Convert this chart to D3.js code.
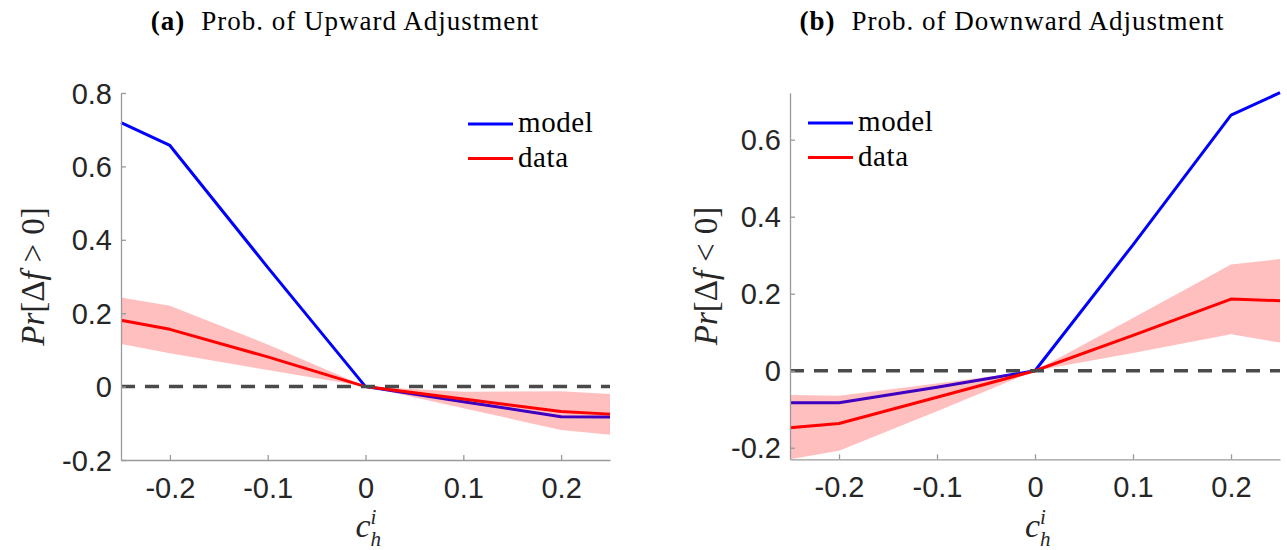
<!DOCTYPE html>
<html>
<head>
<meta charset="utf-8">
<script src="https://cdn.jsdelivr.net/npm/d3@7"></script>
<style>
  html, body { margin: 0; padding: 0; background: #fff; }
  svg { display: block; }
</style>
</head>
<body>
<svg id="chart" width="1287" height="550"></svg>
<script>
// ---------- data ----------
const cGrid = [-0.25, -0.2, -0.1, 0, 0.1, 0.2, 0.25];
const xTicks = [-0.2, -0.1, 0, 0.1, 0.2];
const xTickLabels = ["-0.2", "-0.1", "0", "0.1", "0.2"];

const upModel = [0.719, 0.657, 0.325, 0, -0.041, -0.082, -0.083];
const upData  = [0.181, 0.156, 0.081, 0, -0.034, -0.068, -0.075];
const upLower = [0.116, 0.091, 0.045, 0, -0.059, -0.118, -0.131];
const upUpper = [0.243, 0.220, 0.115, 0, -0.014, -0.013, -0.020];
const upYTicks = [-0.2, 0, 0.2, 0.4, 0.6, 0.8];
const upYTickLabels = ["-0.2", "0", "0.2", "0.4", "0.6", "0.8"];
const upYDomain = [-0.2, 0.8];

const downModel = [-0.083, -0.083, -0.043, 0, 0.327, 0.664, 0.722];
const downData  = [-0.148, -0.137, -0.069, 0, 0.092, 0.186, 0.182];
const downLower = [-0.230, -0.208, -0.105, 0, 0.046, 0.095, 0.073];
const downUpper = [-0.063, -0.065, -0.033, 0, 0.137, 0.276, 0.290];
const downYTicks = [-0.2, 0, 0.2, 0.4, 0.6];
const downYTickLabels = ["-0.2", "0", "0.2", "0.4", "0.6"];
const downYDomain = [-0.23, 0.722];

const seriesNames = ["model", "data"];
const titlesTag = ["(a)", "(b)"];
const titlesText = ["Prob. of Upward Adjustment", "Prob. of Downward Adjustment"];
const yLabelSign = [">", "<"];

// ---------- drawing ----------
const svg = d3.select("#chart");
const tickFont = "'Liberation Sans', Arial, Helvetica, sans-serif";
const serifFont = "'Liberation Serif', 'Times New Roman', serif";
const axisColor = "#9a9a9a";
const textColor = "#262626";

const panels = [
  { left: 121, right: 610, top: 93, bottom: 460,
    model: upModel, data: upData, lower: upLower, upper: upUpper,
    yTicks: upYTicks, yTickLabels: upYTickLabels, yDomain: upYDomain,
    legendX: 468, legendY: 124, titleCenter: 345, ylabelX: 44 },
  { left: 790, right: 1280, top: 92.7, bottom: 459.3,
    model: downModel, data: downData, lower: downLower, upper: downUpper,
    yTicks: downYTicks, yTickLabels: downYTickLabels, yDomain: downYDomain,
    legendX: 808, legendY: 123, titleCenter: 1012, ylabelX: 717 }
];

panels.forEach((p, pi) => {
  const x = d3.scaleLinear().domain([-0.25, 0.25]).range([p.left, p.right]);
  const y = d3.scaleLinear().domain(p.yDomain).range([p.bottom, p.top]);
  const g = svg.append("g");

  // model line (drawn first, band is overlaid semi-transparently)
  const line = d3.line().x((d, i) => x(cGrid[i])).y(d => y(d));
  g.append("path").datum(p.model).attr("d", line)
    .attr("fill", "none").attr("stroke", "#0000ff").attr("stroke-width", 3)
    .attr("stroke-linejoin", "round");

  // confidence band
  const area = d3.area()
    .x((d, i) => x(cGrid[i]))
    .y0((d, i) => y(p.lower[i]))
    .y1((d, i) => y(p.upper[i]));
  g.append("path").datum(p.upper).attr("d", area)
    .attr("fill", "#ff0000").attr("fill-opacity", 0.25).attr("stroke", "none");

  // data line
  g.append("path").datum(p.data).attr("d", line)
    .attr("fill", "none").attr("stroke", "#ff0000").attr("stroke-width", 3)
    .attr("stroke-linejoin", "round");

  // zero dashed line
  g.append("line")
    .attr("x1", x(-0.25)).attr("x2", x(0.25))
    .attr("y1", y(0)).attr("y2", y(0))
    .attr("stroke", "#4a4a4a").attr("stroke-width", 3.5)
    .attr("stroke-dasharray", "14 10");

  // axes
  const xAxis = d3.axisBottom(x).tickValues(xTicks)
    .tickFormat((d, i) => xTickLabels[i]).tickSizeInner(-5).tickSizeOuter(0).tickPadding(17);
  const xg = g.append("g").attr("transform", `translate(0,${p.bottom})`).call(xAxis);
  const yAxis = d3.axisLeft(y).tickValues(p.yTicks)
    .tickFormat((d, i) => p.yTickLabels[i]).tickSizeInner(-5).tickSizeOuter(0).tickPadding(9);
  const yg = g.append("g").attr("transform", `translate(${p.left},0)`).call(yAxis);
  [xg, yg].forEach(ax => {
    ax.select(".domain").attr("stroke", axisColor).attr("stroke-width", 1.3);
    ax.selectAll(".tick line").attr("stroke", axisColor).attr("stroke-width", 1.3);
    ax.selectAll(".tick text").attr("fill", textColor)
      .style("font-family", tickFont).style("font-size", "29px");
  });
  xg.selectAll(".tick text").attr("dy", "0.71em");
  yg.selectAll(".tick text").attr("dy", "0.35em");

  // legend
  const colors = ["#0000ff", "#ff0000"];
  seriesNames.forEach((name, i) => {
    const ly = p.legendY + i * 34.5;
    g.append("line").attr("x1", p.legendX).attr("x2", p.legendX + 45)
      .attr("y1", ly).attr("y2", ly)
      .attr("stroke", colors[i]).attr("stroke-width", 3);
    g.append("text").attr("x", p.legendX + 50).attr("y", ly + 8)
      .attr("fill", "#000").style("font-family", serifFont).style("font-size", "29px")
      .style("letter-spacing", "0.6px")
      .text(name);
  });

  // title
  const t = g.append("text").attr("x", p.titleCenter).attr("y", 30)
    .attr("text-anchor", "middle").attr("fill", "#000")
    .style("font-family", serifFont).style("font-size", "27px")
    .style("letter-spacing", "1px");
  t.append("tspan").style("font-weight", "bold").text(titlesTag[pi]);
  t.append("tspan").attr("dx", 16).text(titlesText[pi]);

  // y label: Pr[Δf > 0]
  const cy = (p.top + p.bottom) / 2;
  const yl = g.append("text")
    .attr("transform", `translate(${p.ylabelX},${cy}) rotate(-90)`)
    .attr("text-anchor", "middle").attr("fill", textColor)
    .style("font-family", serifFont).style("font-size", "33px");
  yl.append("tspan").style("font-style", "italic").text("Pr");
  yl.append("tspan").text("[Δ");
  yl.append("tspan").style("font-style", "italic").text("f");
  yl.append("tspan").attr("dx", 9).text(yLabelSign[pi]);
  yl.append("tspan").attr("dx", 9).text("0]");

  // x label: c_h^i
  const cx = (p.left + p.right) / 2;
  const xl = g.append("text").attr("x", cx - 10).attr("y", 537).attr("fill", textColor)
    .attr("text-anchor", "start")
    .style("font-family", serifFont).style("font-size", "34px").style("font-style", "italic");
  xl.append("tspan").text("c");
  xl.append("tspan").attr("dy", -13).style("font-size", "21px").text("i");
  xl.append("tspan").attr("dx", -6).attr("dy", 22).style("font-size", "21px").text("h");
});
</script>
</body>
</html>
